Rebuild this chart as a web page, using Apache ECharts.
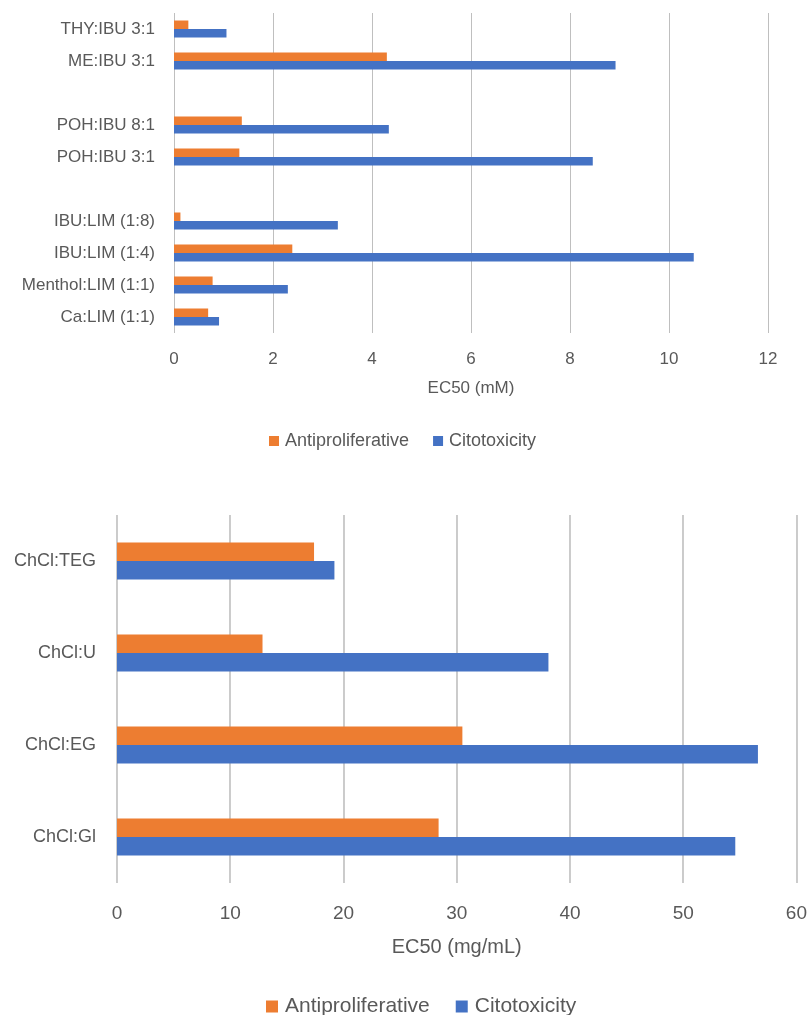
<!DOCTYPE html>
<html>
<head>
<meta charset="utf-8">
<script src="https://cdn.jsdelivr.net/npm/echarts@6/dist/echarts.min.js"></script>
<style>
  html, body { margin: 0; padding: 0; background: #ffffff; }
  #chart { width: 810px; height: 1015px; }
</style>
</head>
<body>
<div id="chart"></div>
<script>
// Upper panel: EC50 in mM, listed bottom-to-top (blank entries separate the groups)
const mmCategories = ['Ca:LIM (1:1)', 'Menthol:LIM (1:1)', 'IBU:LIM (1:4)', 'IBU:LIM (1:8)', ' ',
  'POH:IBU 3:1', 'POH:IBU 8:1', '  ', 'ME:IBU 3:1', 'THY:IBU 3:1'];
const mmAntiproliferative = [0.69, 0.78, 2.39, 0.13, null, 1.32, 1.37, null, 4.30, 0.29];
const mmCitotoxicity = [0.91, 2.30, 10.50, 3.31, null, 8.46, 4.34, null, 8.92, 1.06];
const mmTicks = [0, 2, 4, 6, 8, 10, 12];

// Lower panel: EC50 in mg/mL, listed bottom-to-top
const mgCategories = ['ChCl:Gl', 'ChCl:EG', 'ChCl:U', 'ChCl:TEG'];
const mgAntiproliferative = [28.4, 30.5, 12.85, 17.4];
const mgCitotoxicity = [54.6, 56.6, 38.1, 19.2];
const mgTicks = [0, 10, 20, 30, 40, 50, 60];

const seriesNames = ['Antiproliferative', 'Citotoxicity'];
const ORANGE = '#ED7D31';
const BLUE = '#4472C4';
const TEXT = '#595959';
const GRID = '#bfbfbf';
const FONT = '"Liberation Sans", Arial, sans-serif';

const chart = echarts.init(document.getElementById('chart'), null, { renderer: 'canvas' });

function valueAxis(gridIndex, ticks, name, fontSize, nameSize, margin, nameGap, lineWidth) {
  return {
    type: 'value', gridIndex,
    min: ticks[0], max: ticks[ticks.length - 1], interval: ticks[1] - ticks[0],
    name, nameLocation: 'middle', nameGap,
    nameTextStyle: { color: TEXT, fontSize: nameSize, fontFamily: FONT },
    axisLine: { show: false }, axisTick: { show: false },
    axisLabel: { color: TEXT, fontSize, fontFamily: FONT, margin },
    splitLine: { show: true, lineStyle: { color: GRID, width: lineWidth } }
  };
}

function categoryAxis(gridIndex, data, fontSize, margin) {
  return {
    type: 'category', gridIndex, data,
    axisLine: { show: false }, axisTick: { show: false },
    axisLabel: { color: TEXT, fontSize, fontFamily: FONT, margin, interval: 0 },
    splitLine: { show: false }
  };
}

function barSeries(name, axisIndex, data, color, width) {
  return {
    name, type: 'bar', xAxisIndex: axisIndex, yAxisIndex: axisIndex,
    data, barWidth: width, barGap: '0%',
    itemStyle: { color },
    emphasis: { disabled: true },
    animation: false
  };
}

chart.setOption({
  animation: false,
  textStyle: { fontFamily: FONT },
  grid: [
    { left: 174, right: 42, top: 13, height: 320 },
    { left: 117, right: 12, top: 515, height: 368 }
  ],
  xAxis: [
    valueAxis(0, mmTicks, 'EC50 (mM)', 17, 17, 18, 47, 1),
    valueAxis(1, mgTicks, 'EC50 (mg/mL)', 19, 20, 21, 54, 1.6)
  ],
  yAxis: [
    categoryAxis(0, mmCategories, 17, 19),
    categoryAxis(1, mgCategories, 18, 21)
  ],
  legend: [
    {
      data: seriesNames, left: 264, top: 427, icon: 'rect',
      itemWidth: 10, itemHeight: 10, itemGap: 24,
      textStyle: { color: TEXT, fontSize: 18, fontFamily: FONT, padding: [0, 0, 0, 1] },
      selectedMode: false
    },
    {
      data: seriesNames, left: 261, top: 991, icon: 'rect',
      itemWidth: 12, itemHeight: 12, itemGap: 26,
      textStyle: { color: TEXT, fontSize: 21, fontFamily: FONT, padding: [0, 0, 0, 2] },
      selectedMode: false
    }
  ],
  series: [
    barSeries(seriesNames[0], 0, mmAntiproliferative, ORANGE, 8.5),
    barSeries(seriesNames[1], 0, mmCitotoxicity, BLUE, 8.5),
    barSeries(seriesNames[0], 1, mgAntiproliferative, ORANGE, 18.5),
    barSeries(seriesNames[1], 1, mgCitotoxicity, BLUE, 18.5)
  ]
});
</script>
</body>
</html>
